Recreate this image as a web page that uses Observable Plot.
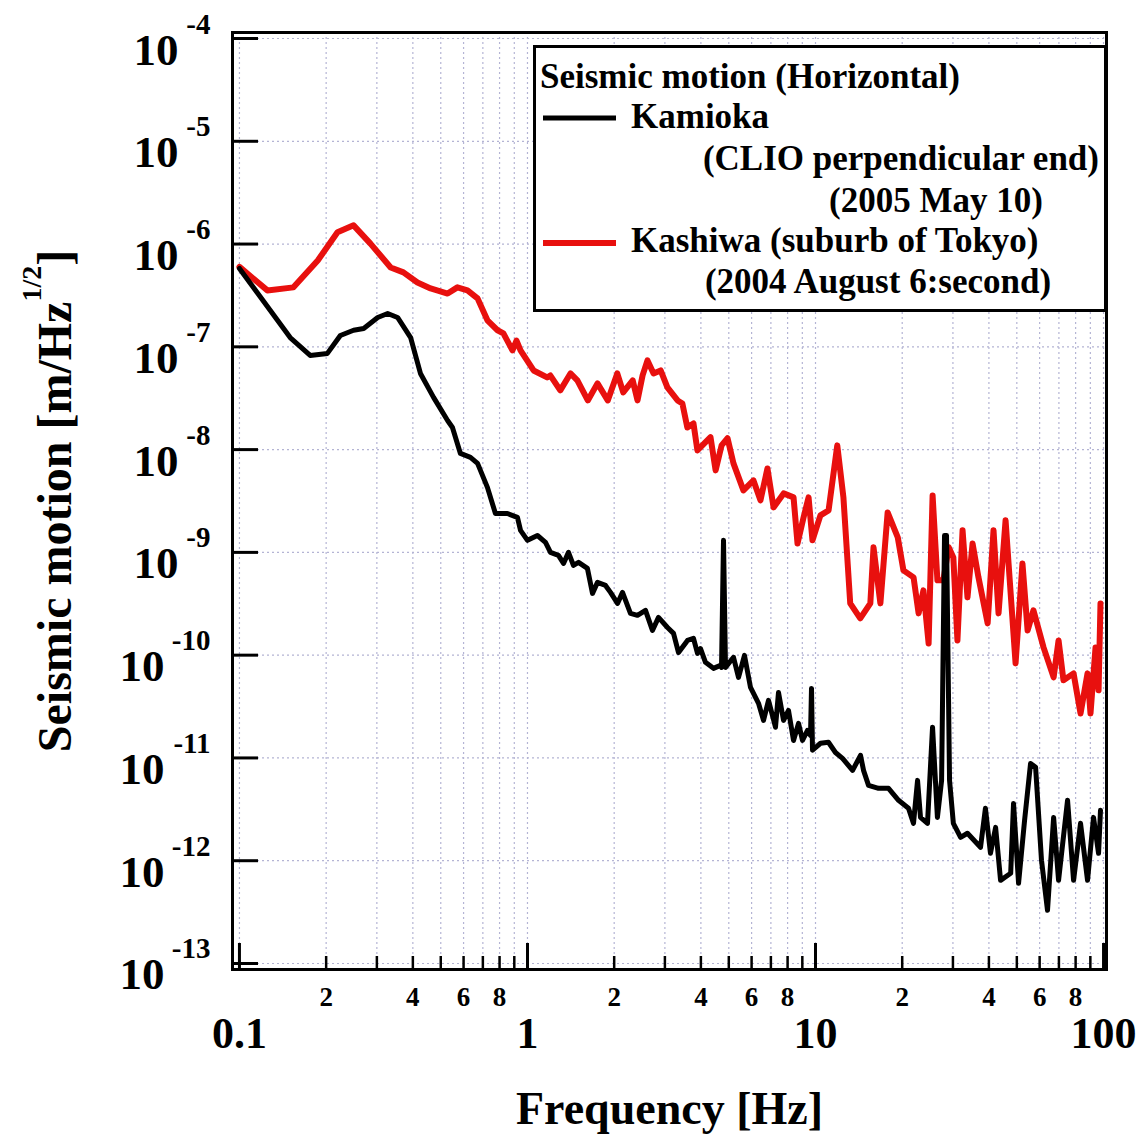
<!DOCTYPE html>
<html><head><meta charset="utf-8">
<script src="https://cdn.jsdelivr.net/npm/d3@7"></script>
<script src="https://cdn.jsdelivr.net/npm/@observablehq/plot@0.6"></script>
<style>
html,body{margin:0;padding:0;background:#fff;}
#wrap{position:relative;width:1145px;height:1135px;}
</style></head><body><div id="wrap"></div>
<script>
// ---------- data ----------
const kamiokaFreq = [0.1, 0.150, 0.176, 0.202, 0.224, 0.249, 0.270, 0.302, 0.327, 0.354, 0.393, 0.425, 0.472, 0.528, 0.549, 0.585, 0.634, 0.671, 0.726, 0.774, 0.852, 0.923, 0.946, 1.0, 1.083, 1.155, 1.202, 1.281, 1.334, 1.388, 1.444, 1.504, 1.615, 1.682, 1.750, 1.866, 1.942, 2.054, 2.138, 2.278, 2.409, 2.569, 2.716, 2.850, 3.063, 3.214, 3.345, 3.594, 3.771, 3.893, 3.988, 4.150, 4.424, 4.679, 4.717, 4.793, 4.870, 5.192, 5.404, 5.668, 5.947, 6.341, 6.599, 6.868, 7.262, 7.439, 7.745, 8.058, 8.388, 8.730, 9.014, 9.380, 9.608, 9.685, 9.763, 10.41, 11.09, 11.73, 12.41, 13.45, 14.33, 14.68, 15.28, 16.55, 17.93, 19.42, 21.03, 21.89, 22.61, 23.15, 24.48, 25.49, 26.5, 27.4, 28.05, 28.5, 29.2, 30.1, 31.9, 33.7, 37.4, 38.9, 40.5, 42.2, 43.9, 47.6, 48.7, 50.7, 53.2, 55.8, 58.1, 60.9, 63.9, 67.1, 69.8, 75.0, 78.7, 83.2, 88.0, 92.3, 96.1, 97.6];
const kamiokaASD = [5.79e-7, 1.23e-7, 8.24e-8, 8.63e-8, 1.29e-7, 1.45e-7, 1.51e-7, 1.93e-7, 2.11e-7, 1.93e-7, 1.23e-7, 5.51e-8, 3.22e-8, 1.92e-8, 1.64e-8, 9.18e-9, 8.39e-9, 7.34e-9, 4.29e-9, 2.39e-9, 2.39e-9, 2.19e-9, 1.64e-9, 1.31e-9, 1.46e-9, 1.25e-9, 1.0e-9, 9.35e-10, 7.81e-10, 1.0e-9, 7.48e-10, 8.0e-10, 6.98e-10, 3.99e-10, 5.11e-10, 4.77e-10, 4.08e-10, 3.19e-10, 4.08e-10, 2.55e-10, 2.44e-10, 2.73e-10, 1.74e-10, 2.33e-10, 1.86e-10, 1.63e-10, 1.06e-10, 1.39e-10, 1.46e-10, 1.04e-10, 1.16e-10, 8.51e-11, 7.44e-11, 7.96e-11, 7.6e-11, 1.31e-9, 7.6e-11, 9.53e-11, 6.08e-11, 9.96e-11, 4.86e-11, 3.40e-11, 2.32e-11, 3.63e-11, 1.99e-11, 4.34e-11, 2.32e-11, 2.90e-11, 1.48e-11, 2.17e-11, 1.48e-11, 1.85e-11, 1.66e-11, 4.75e-11, 1.19e-11, 1.39e-11, 1.42e-11, 1.13e-11, 9.91e-12, 7.57e-12, 1.06e-11, 7.57e-12, 5.41e-12, 5.06e-12, 5.06e-12, 3.87e-12, 3.24e-12, 2.31e-12, 6.05e-12, 2.64e-12, 2.31e-12, 1.99e-11, 2.64e-12, 6.05e-12, 1.46e-9, 1.46e-9, 6.05e-12, 2.31e-12, 1.69e-12, 1.85e-12, 1.35e-12, 3.24e-12, 1.18e-12, 2.11e-12, 6.44e-13, 7.54e-13, 3.61e-12, 6.02e-13, 2.47e-12, 8.85e-12, 8.11e-12, 1.01e-12, 3.29e-13, 2.64e-12, 6.44e-13, 3.87e-12, 6.44e-13, 2.31e-12, 6.44e-13, 2.64e-12, 1.18e-12, 3.09e-12];

const kashiwaFreq = [0.1, 0.125, 0.154, 0.187, 0.219, 0.249, 0.285, 0.335, 0.371, 0.415, 0.461, 0.528, 0.571, 0.619, 0.671, 0.726, 0.787, 0.825, 0.887, 0.916, 0.946, 1.05, 1.17, 1.20, 1.30, 1.41, 1.49, 1.62, 1.75, 1.90, 2.05, 2.15, 2.32, 2.41, 2.51, 2.61, 2.74, 2.90, 3.06, 3.32, 3.45, 3.59, 3.77, 3.89, 4.32, 4.50, 4.72, 4.95, 5.19, 5.62, 6.09, 6.44, 6.81, 7.15, 7.75, 8.39, 8.66, 9.09, 9.46, 9.76, 10.4, 11.1, 11.9, 12.5, 13.2, 14.3, 15.5, 15.9, 16.8, 17.8, 19.3, 20.2, 21.9, 22.8, 23.7, 24.7, 25.5, 26.5, 27.8, 29.0, 30.1, 31.1, 32.4, 33.7, 35.1, 36.8, 39.6, 41.5, 43.2, 45.7, 46.8, 49.5, 52.3, 54.5, 57.1, 61.9, 67.1, 69.8, 72.6, 78.7, 83.2, 88.0, 90.1, 93.8, 96.1, 97.6];
const kashiwaASD = [6.0e-7, 3.54e-7, 3.79e-7, 6.92e-7, 1.30e-6, 1.52e-6, 1.01e-6, 5.92e-7, 5.30e-7, 4.23e-7, 3.70e-7, 3.30e-7, 3.79e-7, 3.54e-7, 2.96e-7, 1.81e-7, 1.45e-7, 1.35e-7, 9.22e-8, 1.15e-7, 9.22e-8, 5.89e-8, 5.04e-8, 5.27e-8, 3.77e-8, 5.51e-8, 4.71e-8, 3.01e-8, 4.41e-8, 3.01e-8, 5.51e-8, 3.60e-8, 4.71e-8, 3.01e-8, 5.27e-8, 7.38e-8, 5.51e-8, 5.89e-8, 4.03e-8, 3.01e-8, 2.81e-8, 1.64e-8, 1.80e-8, 9.82e-9, 1.32e-8, 6.28e-9, 1.10e-8, 1.29e-8, 7.34e-9, 4.01e-9, 5.01e-9, 3.21e-9, 6.56e-9, 2.74e-9, 3.75e-9, 3.43e-9, 1.22e-9, 2.19e-9, 3.43e-9, 1.31e-9, 2.29e-9, 2.56e-9, 1.10e-8, 3.43e-9, 3.19e-10, 2.28e-10, 3.19e-10, 1.12e-9, 3.19e-10, 2.45e-9, 1.40e-9, 6.68e-10, 5.71e-10, 2.55e-10, 4.27e-10, 1.30e-10, 3.58e-9, 5.35e-10, 5.35e-10, 1.12e-9, 8.93e-10, 1.39e-10, 1.64e-9, 3.65e-10, 1.22e-9, 5.71e-10, 2.04e-10, 1.64e-9, 2.55e-10, 2.05e-9, 7.81e-10, 8.32e-11, 7.81e-10, 1.74e-10, 2.73e-10, 1.19e-10, 6.08e-11, 1.39e-10, 5.69e-11, 6.65e-11, 2.71e-11, 6.65e-11, 2.71e-11, 1.19e-10, 4.55e-11, 3.19e-10];

const seriesNames = ["Kamioka", "Kashiwa (suburb of Tokyo)"];
const yTickValues = [1e-4, 1e-5, 1e-6, 1e-7, 1e-8, 1e-9, 1e-10, 1e-11, 1e-12, 1e-13];
const yTickBase = "10";
const yTickExponents = ["-4", "-5", "-6", "-7", "-8", "-9", "-10", "-11", "-12", "-13"];
const xGridValues = [0.1,0.2,0.3,0.4,0.5,0.6,0.7,0.8,0.9,1,2,3,4,5,6,7,8,9,10,20,30,40,50,60,70,80,90,100];
const xMinorTickValues = [0.2,0.3,0.4,0.5,0.6,0.7,0.8,0.9,2,3,4,5,6,7,8,9,20,30,40,50,60,70,80,90];
const xMajorTickValues = [0.1, 1, 10, 100];
const xMajorTickLabels = ["0.1", "1", "10", "100"];
const xMinorLabelValues = [0.2,0.4,0.6,0.8,2,4,6,8,20,40,60,80];
const xMinorLabelTexts = ["2","4","6","8","2","4","6","8","2","4","6","8"];
const xTitle = "Frequency [Hz]";
const yTitleMain = "Seismic motion [m/Hz";
const yTitleSup = "1/2";
const yTitleEnd = "]";
const legendTitle = "Seismic motion (Horizontal)";
const legendKamioka = ["Kamioka", "(CLIO perpendicular end)", "(2005 May 10)"];
const legendKashiwa = ["Kashiwa (suburb of Tokyo)", "(2004 August 6:second)"];

// ---------- tables ----------
const kamioka = kamiokaFreq.map((f, i) => ({f, v: kamiokaASD[i], s: seriesNames[0]}));
const kashiwa = kashiwaFreq.map((f, i) => ({f, v: kashiwaASD[i], s: seriesNames[1]}));
const yLabelRows = yTickValues.map((v, i) => ({v, base: yTickBase, exp: yTickExponents[i]}));
const xMajorRows = xMajorTickValues.map((v, i) => ({v, label: xMajorTickLabels[i]}));
const xMinorRows = xMinorLabelValues.map((v, i) => ({v, label: xMinorLabelTexts[i]}));

const FONT = "'Liberation Serif','Times New Roman',Times,serif";
const RED = "#e8100e";
const GRID = "#b4b4d4";
const yTitleFull = yTitleMain + yTitleEnd;

const plot = Plot.plot({
  width: 1145, height: 1135,
  marginLeft: 232, marginRight: 39, marginTop: 32, marginBottom: 166,
  x: {type: "log", domain: [0.0946, 102.4], axis: null},
  y: {type: "log", domain: [8.74e-14, 1.144e-4], axis: null},
  style: {fontFamily: FONT, fontWeight: "bold", background: "#fff", color: "#000", overflow: "visible"},
  marks: [
    Plot.gridX(xGridValues, {stroke: GRID, strokeOpacity: 1, strokeDasharray: "2,3", strokeWidth: 1.2}),
    Plot.gridY(yTickValues, {stroke: GRID, strokeOpacity: 1, strokeDasharray: "2,3", strokeWidth: 1.2}),
    Plot.line(kashiwa, {x: "f", y: "v", stroke: RED, strokeWidth: 6, strokeLinejoin: "round"}),
    Plot.line(kamioka, {x: "f", y: "v", stroke: "#000", strokeWidth: 5, strokeLinejoin: "round"}),
    Plot.axisX(xMinorTickValues, {tickSize: -13, strokeWidth: 2.5, tickFormat: () => "", label: null}),
    Plot.axisX(xMajorTickValues, {tickSize: -26, strokeWidth: 3, tickFormat: () => "", label: null}),
    Plot.axisY(yTickValues, {tickSize: -26, strokeWidth: 3, tickFormat: () => "", label: null}),
    Plot.frame({stroke: "#000", strokeWidth: 3}),
    Plot.text(yLabelRows.filter(d => d.exp.length === 2), {y: "v", text: "base", frameAnchor: "left", textAnchor: "end", lineAnchor: "bottom", dx: -54, dy: 26, fontSize: 45}),
    Plot.text(yLabelRows.filter(d => d.exp.length === 3), {y: "v", text: "base", frameAnchor: "left", textAnchor: "end", lineAnchor: "bottom", dx: -68, dy: 26, fontSize: 45}),
    Plot.text(yLabelRows, {y: "v", text: "exp", frameAnchor: "left", textAnchor: "end", lineAnchor: "bottom", dx: -22, dy: -5, fontSize: 29}),
    Plot.text(xMinorRows, {x: "v", text: "label", frameAnchor: "bottom", lineAnchor: "bottom", dy: 36, fontSize: 27}),
    Plot.text(xMajorRows, {x: "v", text: "label", frameAnchor: "bottom", lineAnchor: "bottom", dy: 78, fontSize: 44}),
    Plot.text([xTitle], {frameAnchor: "bottom", lineAnchor: "bottom", dy: 154, fontSize: 46}),
    Plot.text([yTitleFull], {frameAnchor: "left", textAnchor: "middle", rotate: -90, lineAnchor: "bottom", dx: -162, fontSize: 48})
  ]
});

// y title with superscript
d3.select(plot).selectAll("text").filter(function() { return this.textContent === yTitleFull; }).each(function() {
  const t = d3.select(this);
  t.text("");
  t.append("tspan").text(yTitleMain);
  t.append("tspan").attr("font-size", 28).attr("dy", -30).text(yTitleSup);
  t.append("tspan").attr("dy", 30).text(yTitleEnd);
});

const wrap = document.getElementById("wrap");
wrap.appendChild(plot);

// legend overlay
const lg = d3.create("svg")
  .attr("width", 580).attr("height", 270)
  .style("position", "absolute").style("left", "533px").style("top", "45px")
  .style("font-family", FONT).style("font-weight", "bold").style("overflow", "visible");
lg.append("rect").attr("x", 1.5).attr("y", 1.5).attr("width", 571).attr("height", 264)
  .attr("fill", "#fff").attr("stroke", "#000").attr("stroke-width", 3);
const fs = 35;
lg.append("text").attr("x", 7).attr("y", 43).attr("font-size", fs).text(legendTitle);
lg.append("line").attr("x1", 10).attr("x2", 83).attr("y1", 73).attr("y2", 73).attr("stroke", "#000").attr("stroke-width", 5);
lg.append("text").attr("x", 98).attr("y", 83).attr("font-size", fs).text(legendKamioka[0]);
lg.append("text").attr("x", 566).attr("y", 125).attr("text-anchor", "end").attr("font-size", fs).text(legendKamioka[1]);
lg.append("text").attr("x", 403).attr("y", 167).attr("text-anchor", "middle").attr("font-size", fs).text(legendKamioka[2]);
lg.append("line").attr("x1", 10).attr("x2", 83).attr("y1", 198).attr("y2", 198).attr("stroke", RED).attr("stroke-width", 6);
lg.append("text").attr("x", 98).attr("y", 207).attr("font-size", fs).text(legendKashiwa[0]);
lg.append("text").attr("x", 345).attr("y", 248).attr("text-anchor", "middle").attr("font-size", fs).text(legendKashiwa[1]);
wrap.appendChild(lg.node());
</script></body></html>
